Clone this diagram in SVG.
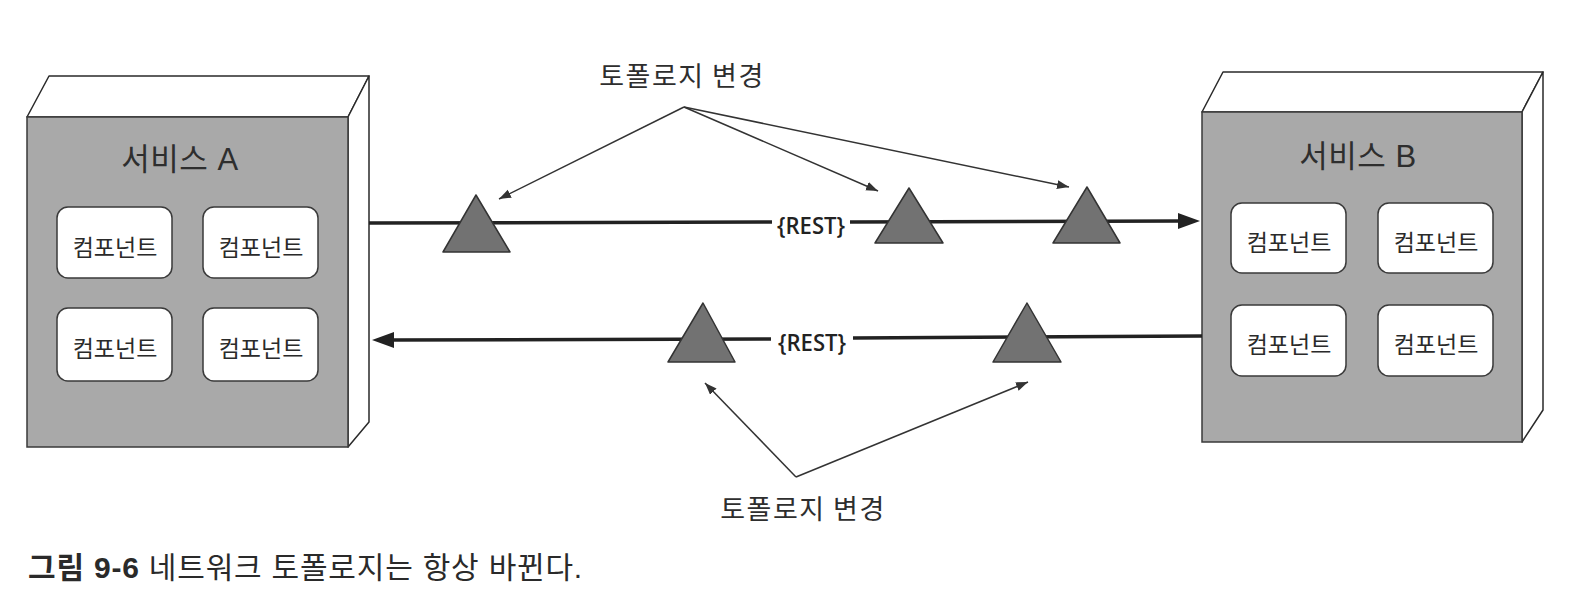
<svg xmlns="http://www.w3.org/2000/svg" width="1590" height="614" viewBox="0 0 1590 614">
<style>
.face{fill:#a9a9a9;stroke:#3a3a3a;stroke-width:1.5}
.side{fill:#ffffff;stroke:#2a2a2a;stroke-width:1.5;stroke-linejoin:round}
.comp{fill:#ffffff;stroke:#3a3a3a;stroke-width:1.5}
.title{font-family:"Liberation Sans","Noto Sans CJK KR",sans-serif;font-size:31px;fill:#2e2e2e;text-anchor:middle;letter-spacing:0.5px}
.ctext{font-family:"Noto Sans CJK KR",sans-serif;font-size:23px;fill:#2a2a2a;text-anchor:middle}
.label{font-family:"Noto Sans CJK KR",sans-serif;font-size:27px;fill:#2e2e2e;text-anchor:middle;letter-spacing:1.5px}
.rest{font-family:"Open Sans","Noto Sans",sans-serif;font-weight:600;font-size:24px;fill:#222}
.main{stroke:#222;stroke-width:3.5;fill:none}
.thin{stroke:#333;stroke-width:1.5;fill:none}
.tri{fill:#727272;stroke:#333;stroke-width:1.5;stroke-linejoin:round}
.cap{font-family:"Liberation Sans","Noto Sans CJK KR",sans-serif;font-size:30px;fill:#2a2a2a;letter-spacing:0.8px}
</style>
<defs>
<marker id="big" markerWidth="24" markerHeight="18" refX="4" refY="8" orient="auto" markerUnits="userSpaceOnUse">
<path d="M0,0 L22,8 L0,16 z" fill="#222"/>
</marker>
<marker id="small" markerWidth="14" markerHeight="10" refX="12" refY="4.5" orient="auto" markerUnits="userSpaceOnUse">
<path d="M0,0 L12,4.5 L0,9 z" fill="#333"/>
</marker>
</defs>
<rect width="1590" height="614" fill="#ffffff"/>

<g id="serviceA">
<polygon class="side" points="27,117 49,76 369,76 348,117"/>
<polygon class="side" points="348,117 369,76 369,422 348,447"/>
<rect class="face" x="27" y="117" width="321" height="330"/>
<text class="title" x="180" y="170">서비스 A</text>
<g id="a-comp1"><rect class="comp" x="57" y="207" width="115" height="71" rx="11"/><text class="ctext" x="115" y="256">컴포넌트</text></g>
<g id="a-comp2"><rect class="comp" x="203" y="207" width="115" height="71" rx="11"/><text class="ctext" x="261" y="256">컴포넌트</text></g>
<g id="a-comp3"><rect class="comp" x="57" y="308" width="115" height="73" rx="11"/><text class="ctext" x="115" y="357">컴포넌트</text></g>
<g id="a-comp4"><rect class="comp" x="203" y="308" width="115" height="73" rx="11"/><text class="ctext" x="261" y="357">컴포넌트</text></g>
</g>

<g id="serviceB">
<polygon class="side" points="1202,112 1223,72 1543,72 1522,112"/>
<polygon class="side" points="1522,112 1543,72 1543,410 1522,442"/>
<rect class="face" x="1202" y="112" width="320" height="330"/>
<text class="title" x="1358" y="167">서비스 B</text>
<g id="b-comp1"><rect class="comp" x="1231" y="203" width="115" height="70" rx="11"/><text class="ctext" x="1289" y="251">컴포넌트</text></g>
<g id="b-comp2"><rect class="comp" x="1378" y="203" width="115" height="70" rx="11"/><text class="ctext" x="1436" y="251">컴포넌트</text></g>
<g id="b-comp3"><rect class="comp" x="1231" y="305" width="115" height="71" rx="11"/><text class="ctext" x="1289" y="353">컴포넌트</text></g>
<g id="b-comp4"><rect class="comp" x="1378" y="305" width="115" height="71" rx="11"/><text class="ctext" x="1436" y="353">컴포넌트</text></g>
</g>

<g id="connectors">
<line class="main" x1="369" y1="223" x2="772" y2="222"/>
<line class="main" x1="850" y1="222" x2="1182" y2="221" marker-end="url(#big)"/>
<text class="rest" x="777" y="234" textLength="68" lengthAdjust="spacingAndGlyphs">{REST}</text>
<line class="main" x1="1202" y1="336" x2="853" y2="338"/>
<line class="main" x1="771" y1="339" x2="390" y2="340" marker-end="url(#big)"/>
<text class="rest" x="778" y="351" textLength="68" lengthAdjust="spacingAndGlyphs">{REST}</text>
<line class="thin" x1="684" y1="107" x2="499" y2="199" marker-end="url(#small)"/>
<line class="thin" x1="684" y1="107" x2="878" y2="191" marker-end="url(#small)"/>
<line class="thin" x1="684" y1="107" x2="1069" y2="187" marker-end="url(#small)"/>
<line class="thin" x1="796" y1="477" x2="705" y2="383" marker-end="url(#small)"/>
<line class="thin" x1="796" y1="477" x2="1028" y2="382" marker-end="url(#small)"/>
</g>

<g id="triangles">
<polygon class="tri" points="476,195 443,252 510,252"/>
<polygon class="tri" points="909,188 875,243 943,243"/>
<polygon class="tri" points="1087,187 1053,243 1120,243"/>
<polygon class="tri" points="703,303 668,362 735,362"/>
<polygon class="tri" points="1027,303 993,362 1061,362"/>
</g>

<g id="label-top"><text class="label" x="682" y="86">토폴로지 변경</text></g>
<g id="label-bottom"><text class="label" x="803" y="519">토폴로지 변경</text></g>

<text class="cap" x="28" y="578"><tspan font-weight="bold">그림 9-6</tspan> 네트워크 토폴로지는 항상 바뀐다.</text>
</svg>
